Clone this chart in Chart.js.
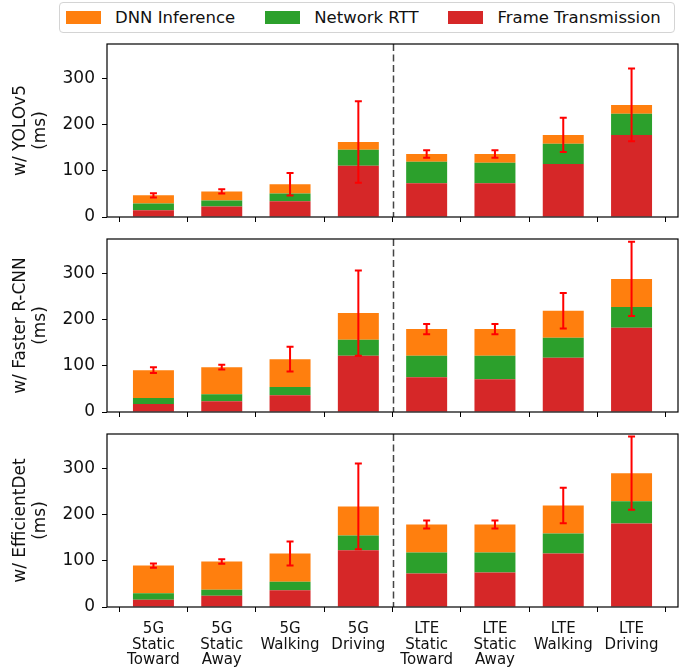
<!DOCTYPE html>
<html>
<head>
<meta charset="utf-8">
<script src="https://cdn.jsdelivr.net/npm/chart.js@4.4.1/dist/chart.umd.min.js"></script>
<style>
    body { margin: 0; background: #fff; }
    #wrap { position: relative; width: 694px; height: 669px; background: #fff; font-family: "DejaVu Sans", sans-serif; }
    #wrap canvas { position: absolute; left: 0; }
    #legend {
        position: absolute; left: 59px; top: 2px; width: 608px; height: 29px;
        border: 1px solid #d4d4d4; border-radius: 4px;
        display: flex; align-items: center; padding-left: 6px; gap: 30px;
        font-size: 16.5px; color: #111;
    }
    #legend .item { display: flex; align-items: center; gap: 14px; white-space: nowrap; }
    #legend .sw { width: 35px; height: 13px; display: inline-block; }
</style>
</head>
<body>
<div id="wrap">
    <div id="legend">
        <div class="item"><span class="sw" style="background:#ff7f0e"></span>DNN Inference</div>
        <div class="item"><span class="sw" style="background:#2ca02c"></span>Network RTT</div>
        <div class="item"><span class="sw" style="background:#d62728"></span>Frame Transmission</div>
    </div>
    <canvas id="chartYolo" width="694" height="193" style="top:34px"></canvas>
    <canvas id="chartRcnn" width="694" height="193" style="top:229px"></canvas>
    <canvas id="chartEffDet" width="694" height="245" style="top:424px"></canvas>
</div>
<script>
const categories = [
    ['5G', 'Static', 'Toward'], ['5G', 'Static', 'Away'], ['5G', 'Walking'], ['5G', 'Driving'],
    ['LTE', 'Static', 'Toward'], ['LTE', 'Static', 'Away'], ['LTE', 'Walking'], ['LTE', 'Driving']
];
const yTicks = [0, 100, 200, 300];
const yMax = 375;

// YOLOv5
const yoloFrame = [14.5, 23.0, 34.0, 111.0, 73.0, 73.0, 115.0, 178.0];
const yoloRtt   = [15.0, 13.0, 17.0, 35.0, 46.5, 44.5, 44.0, 46.0];
const yoloDnn   = [17.5, 19.5, 20.0, 16.5, 17.0, 19.0, 19.0, 19.0];
const yoloErr   = [4.5, 4.5, 24.5, 88.5, 8.0, 8.0, 37.0, 79.0];

// Faster R-CNN
const rcnnFrame = [17.4, 23.3, 36.3, 121.7, 75.4, 71.0, 117.4, 182.6];
const rcnnRtt   = [13.0, 15.2, 18.0, 34.8, 46.3, 50.7, 43.5, 45.0];
const rcnnDnn   = [60.2, 58.7, 60.3, 58.0, 58.1, 58.1, 58.7, 60.9];
const rcnnErr   = [6.2, 5.0, 26.8, 92.4, 11.2, 11.2, 38.5, 80.5];

// EfficientDet
const effFrame = [15.9, 24.6, 36.1, 123.0, 72.4, 74.6, 115.9, 181.0];
const effRtt   = [13.7, 13.0, 18.9, 32.0, 45.6, 43.4, 43.5, 48.0];
const effDnn   = [60.2, 60.9, 60.9, 63.0, 61.0, 61.0, 60.6, 61.0];
const effErr   = [4.7, 5.0, 26.1, 93.0, 8.7, 8.7, 38.4, 79.4];

const colors = {
    orange: '#ff7f0e',
    green: '#2ca02c',
    red: '#d62728',
    err: '#ff0000',
    axis: '#000000',
    text: '#111111'
};

const FONT = '"DejaVu Sans", sans-serif';

// error bars, dashed 5G/LTE separator and the axes frame
const panelExtras = {
    id: 'panelExtras',
    afterDatasetsDraw(chart, args, opts) {
        const ctx = chart.ctx;
        const xs = chart.scales.x;
        const ys = chart.scales.y;
        const area = chart.chartArea;

        ctx.save();
        ctx.strokeStyle = '#444';
        ctx.lineWidth = 1.5;
        ctx.setLineDash([7, 3.5]);
        const xSep = Math.round(xs.getPixelForValue(opts.separator)) + 0.5;
        ctx.beginPath();
        ctx.moveTo(xSep, area.top);
        ctx.lineTo(xSep, area.bottom);
        ctx.stroke();
        ctx.setLineDash([]);

        ctx.strokeStyle = colors.err;
        ctx.lineWidth = 2;
        opts.totals.forEach((t, i) => {
            const x = xs.getPixelForValue(i);
            const yTop = ys.getPixelForValue(t + opts.err[i]);
            const yBot = ys.getPixelForValue(t - opts.err[i]);
            ctx.beginPath();
            ctx.moveTo(x, yTop);
            ctx.lineTo(x, yBot);
            ctx.moveTo(x - 3.5, yTop);
            ctx.lineTo(x + 3.5, yTop);
            ctx.moveTo(x - 3.5, yBot);
            ctx.lineTo(x + 3.5, yBot);
            ctx.stroke();
        });

        ctx.strokeStyle = colors.axis;
        ctx.lineWidth = 1.2;
        ctx.strokeRect(area.left, area.top, area.right - area.left, area.bottom - area.top);
        ctx.restore();
    }
};

function criarPainel(canvasId, yTitle, frame, rtt, dnn, err, showLabels) {
    const totals = frame.map((v, i) => v + rtt[i] + dnn[i]);
    const toPoints = arr => arr.map((v, i) => ({ x: i, y: v }));

    const ctx = document.getElementById(canvasId).getContext('2d');
    return new Chart(ctx, {
        type: 'bar',
        data: {
            datasets: [
                { label: 'Frame Transmission', data: toPoints(frame), backgroundColor: colors.red },
                { label: 'Network RTT', data: toPoints(rtt), backgroundColor: colors.green },
                { label: 'DNN Inference', data: toPoints(dnn), backgroundColor: colors.orange }
            ]
        },
        options: {
            responsive: false,
            animation: false,
            events: [],
            categoryPercentage: 1.0,
            barPercentage: 0.6,
            layout: { padding: { top: 10, right: 16, left: 0, bottom: 0 } },
            plugins: {
                legend: { display: false },
                tooltip: { enabled: false },
                panelExtras: { totals: totals, err: err, separator: 3.5 }
            },
            scales: {
                x: {
                    type: 'linear',
                    stacked: true,
                    offset: false,
                    min: -0.68,
                    max: 7.68,
                    afterBuildTicks: scale => { scale.ticks = categories.map((c, i) => ({ value: i })); },
                    afterFit: scale => {
                        scale.height = showLabels ? 62 : 10;
                        scale.paddingLeft = 0;
                        scale.paddingRight = 0;
                    },
                    border: { display: false },
                    grid: { display: true, drawOnChartArea: false, drawTicks: true, tickLength: 5, color: colors.axis },
                    ticks: {
                        autoSkip: false,
                        maxRotation: 0,
                        padding: 9,
                        color: colors.text,
                        font: { family: FONT, size: 15, lineHeight: 1.05 },
                        callback: value => showLabels ? categories[value] : ''
                    }
                },
                y: {
                    stacked: true,
                    min: 0,
                    max: yMax,
                    afterBuildTicks: scale => { scale.ticks = yTicks.map(v => ({ value: v })); },
                    afterFit: scale => {
                        scale.width = 107;
                        scale.paddingTop = 0;
                        scale.paddingBottom = 0;
                    },
                    border: { display: false },
                    grid: { display: true, drawOnChartArea: false, drawTicks: true, tickLength: 5, color: colors.axis },
                    ticks: {
                        padding: 7,
                        color: colors.text,
                        font: { family: FONT, size: 17 }
                    },
                    title: {
                        display: true,
                        text: [yTitle, '(ms)'],
                        color: colors.text,
                        padding: { top: 11, bottom: 0 },
                        font: { family: FONT, size: 17, lineHeight: 1.15 }
                    }
                }
            }
        },
        plugins: [panelExtras]
    });
}

criarPainel('chartYolo', 'w/ YOLOv5', yoloFrame, yoloRtt, yoloDnn, yoloErr, false);
criarPainel('chartRcnn', 'w/ Faster R-CNN', rcnnFrame, rcnnRtt, rcnnDnn, rcnnErr, false);
criarPainel('chartEffDet', 'w/ EfficientDet', effFrame, effRtt, effDnn, effErr, true);
</script>
</body>
</html>
